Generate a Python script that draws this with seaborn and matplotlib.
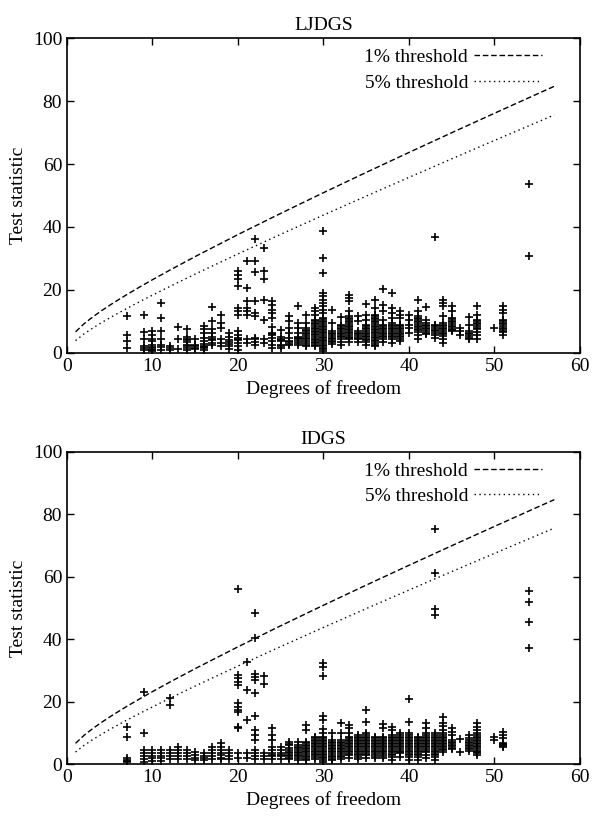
import pandas as pd
import matplotlib.pyplot as plt
import seaborn as sns

# LJDGS: degrees of freedom and the test statistics read at each one
lj_df = [7, 9, 10, 11, 12, 13, 14, 15, 16, 17, 18, 19, 20, 21, 22, 23, 24, 25,
         26, 27, 28, 29, 30, 31, 32, 33, 34, 35, 36, 37, 38, 39, 40, 41, 42,
         43, 44, 45, 46, 47, 48, 50, 51, 54]
lj_vals = [
    [11.6, 5.7, 3.6, 1.5],
    [12.1, 6.5, 4.2, 2.2, 1.5, 0.8],
    [6.8, 5.7, 4.4, 3.6, 2.5, 1.8, 1.4, 1.0, 0.7, 0.4],
    [15.8, 11.1, 6.8, 4.2, 2.5, 1.8, 1.0],
    [2.2, 1.5, 0.8],
    [8.1, 4.2, 1.2],
    [7.5, 5.1, 4.5, 4.0, 3.5, 2.5, 2.0, 1.5, 1.0],
    [4.4, 2.5, 2.0, 1.5, 1.2],
    [8.6, 7.5, 6.2, 4.7, 3.6, 2.7, 2.2, 1.8, 1.5, 1.0],
    [14.6, 10.0, 7.5, 6.2, 4.9, 4.4, 4.0, 3.1, 2.5],
    [12.1, 9.4, 7.8, 4.2, 3.1, 2.0],
    [6.2, 5.1, 3.9, 3.4, 2.9, 2.0, 1.2],
    [25.9, 24.8, 23.4, 21.1, 14.2, 13.2, 12.1, 7.0, 5.7, 4.7, 4.4, 4.0, 3.1, 2.0, 0.9],
    [29.1, 20.6, 16.3, 14.2, 13.2, 12.1, 4.2, 3.0],
    [36.0, 29.3, 25.6, 16.3, 12.6, 11.6, 4.7, 4.2, 3.5, 2.5],
    [33.3, 25.9, 23.4, 16.9, 10.5, 4.2, 3.0],
    [16.3, 15.2, 13.7, 12.6, 11.1, 8.3, 6.2, 5.9, 5.5, 4.7, 3.6, 2.5, 1.5],
    [7.3, 5.1, 4.4, 4.0, 3.6, 2.5, 2.0, 1.5],
    [11.6, 10.0, 7.8, 6.2, 4.7, 3.6, 3.3, 2.9, 2.5],
    [14.8, 9.4, 7.8, 6.2, 5.0, 4.6, 4.2, 3.6, 3.1, 2.5],
    [12.1, 9.4, 7.8, 7.3, 6.8, 6.3, 5.8, 5.3, 4.8, 4.4, 3.6, 3.1, 2.5, 2.0],
    [14.2, 13.2, 12.1, 10.5, 10.0, 9.5, 9.0, 8.5, 8.0, 7.5, 7.0, 6.5, 6.0,
     5.5, 5.0, 4.5, 4.0, 3.5, 3.1, 2.5, 2.0],
    [38.6, 30.2, 25.4, 19.0, 17.9, 16.9, 15.8, 14.8, 13.7, 12.7, 11.1, 10.6,
     10.1, 9.6, 9.1, 8.6, 8.1, 7.6, 7.1, 6.6, 6.1, 5.6, 5.1, 4.6, 4.1, 3.6,
     3.1, 2.6, 2.1, 1.6, 1.1, 0.6],
    [13.5, 9.4, 6.8, 6.3, 5.8, 5.3, 4.8, 4.3, 3.8, 3.3, 2.8],
    [11.4, 8.9, 8.4, 7.9, 7.4, 6.9, 6.4, 5.9, 5.4, 4.9, 4.4, 3.5, 2.5],
    [18.5, 17.4, 16.3, 13.2, 11.6, 11.1, 10.6, 10.1, 9.6, 9.1, 8.6, 8.1, 7.6,
     7.1, 6.6, 6.1, 5.6, 5.1, 4.6, 4.2, 3.5],
    [11.6, 10.0, 6.8, 6.3, 5.8, 5.3, 4.8, 4.3, 3.5],
    [15.5, 12.1, 10.5, 8.9, 8.4, 7.9, 7.4, 6.9, 6.4, 5.9, 5.4, 4.9, 4.4, 3.9,
     3.4, 2.5],
    [16.9, 14.2, 12.1, 11.6, 11.1, 10.6, 10.1, 9.6, 9.1, 8.6, 8.1, 7.6, 7.1,
     6.6, 6.1, 5.6, 5.1, 4.6, 4.1, 3.6, 3.1, 2.6, 2.0],
    [20.3, 15.3, 13.2, 10.5, 8.9, 8.4, 7.9, 7.4, 6.9, 6.4, 5.9, 5.4, 4.9, 4.4, 3.5],
    [19.0, 14.2, 12.5, 11.0, 9.4, 8.9, 8.4, 7.9, 7.4, 6.9, 6.4, 5.9, 5.4, 4.9,
     4.2, 3.0],
    [13.2, 12.1, 11.1, 8.9, 8.4, 7.9, 7.4, 6.9, 6.4, 5.9, 5.4, 4.9, 4.4, 3.6],
    [12.1, 10.5, 8.9, 7.8, 6.2],
    [16.9, 13.2, 11.6, 11.1, 10.6, 10.1, 9.6, 9.1, 8.6, 8.1, 7.6, 7.1, 6.6,
     5.5, 4.5],
    [14.6, 10.5, 9.4, 8.9, 8.4, 7.9, 7.4, 6.9, 6.4, 5.9],
    [36.8, 8.9, 8.4, 7.9, 7.3, 6.8, 6.3, 5.7, 4.7],
    [16.9, 15.8, 14.8, 11.6, 9.4, 8.9, 8.4, 7.9, 7.4, 6.9, 6.4, 5.9, 5.4,
     4.5, 3.1],
    [14.8, 13.2, 11.1, 10.6, 10.1, 9.6, 9.1, 8.6, 8.1, 7.6, 7.1, 6.8],
    [7.8, 6.8, 5.7],
    [11.4, 8.9, 6.8, 6.3, 5.8, 5.3, 4.8, 4.2],
    [14.8, 12.1, 10.5, 10.0, 9.5, 9.0, 8.5, 8.0, 7.5, 6.5, 5.5, 4.2],
    [7.8],
    [14.8, 13.7, 12.7, 10.5, 10.0, 9.5, 9.0, 8.5, 8.0, 7.5, 7.0, 6.5, 5.7],
    [53.5, 30.9],
]

# IDGS
id_df = [7, 9, 10, 11, 12, 13, 14, 15, 16, 17, 18, 19, 20, 21, 22, 23, 24, 25,
         26, 27, 28, 29, 30, 31, 32, 33, 34, 35, 36, 37, 38, 39, 40, 41, 42,
         43, 44, 45, 46, 47, 48, 50, 51, 54]
id_vals = [
    [12.0, 8.8, 1.8, 1.4, 1.0, 0.6],
    [23.2, 9.8, 4.5, 3.5, 2.5, 1.5, 0.8],
    [4.5, 3.5, 2.5, 1.8, 1.0],
    [4.5, 3.5, 2.5, 1.8, 1.0],
    [21.1, 18.9, 4.5, 3.5, 2.5, 1.5],
    [5.6, 4.5, 3.5, 2.5, 1.5],
    [4.5, 3.5, 2.5, 1.5],
    [4.0, 3.0, 2.0, 1.2],
    [3.5, 2.5, 1.8, 1.2],
    [5.6, 4.5, 3.5, 2.5, 1.5],
    [6.6, 5.5, 4.5, 3.5, 2.8, 2.0, 1.5],
    [4.5, 3.5, 2.5, 1.5],
    [56.0, 28.5, 27.5, 26.4, 25.3, 19.4, 18.4, 17.3, 16.8, 12.0, 11.4, 3.4, 1.8],
    [32.8, 23.7, 14.1, 3.4, 1.8],
    [48.5, 40.3, 29.0, 28.0, 26.9, 22.8, 15.5, 10.9, 9.3, 7.7, 4.5, 3.5,
     2.5, 1.5],
    [28.2, 25.6, 3.4, 2.5, 1.5],
    [11.4, 9.3, 7.7, 5.6, 4.5, 3.5, 3.0, 2.5, 1.5],
    [5.6, 4.5, 3.5, 3.0, 2.5, 1.5],
    [7.0, 6.5, 6.0, 5.0, 4.5, 4.0, 3.5, 3.0, 2.5, 2.0, 1.5],
    [7.0, 6.0, 5.5, 5.0, 4.5, 4.0, 3.5, 3.0, 2.5, 2.0, 1.2],
    [12.5, 10.9, 7.2, 6.7, 6.2, 5.7, 5.2, 4.7, 4.2, 3.7, 3.2, 2.7, 2.2, 1.7, 1.2],
    [8.8, 8.3, 7.8, 7.3, 6.8, 6.3, 5.8, 5.3, 4.8, 4.3, 3.8, 3.3, 2.8, 2.4, 1.5],
    [32.5, 31.2, 28.2, 15.5, 14.1, 11.1, 9.8, 8.8, 8.3, 7.8, 7.3, 6.8, 6.3,
     5.8, 5.3, 4.8, 4.3, 3.8, 3.3, 2.8, 2.3, 1.8, 1.3, 0.8],
    [9.8, 7.7, 7.2, 6.7, 6.2, 5.7, 5.2, 4.7, 4.2, 3.7, 3.2, 2.7, 2.2, 1.7, 1.2],
    [13.3, 10.0, 7.7, 7.2, 6.7, 6.2, 5.7, 5.2, 4.7, 4.2, 3.7, 3.2, 2.7, 2.2, 1.7],
    [12.5, 11.4, 9.8, 8.8, 8.3, 7.8, 7.3, 6.8, 6.3, 5.8, 5.3, 4.8, 4.3, 3.8,
     3.3, 2.8, 1.8],
    [9.3, 8.8, 8.3, 7.8, 7.3, 6.8, 6.3, 5.8, 5.3, 4.8, 4.3, 3.8, 3.3, 2.8, 2.4, 1.5],
    [17.3, 13.6, 9.8, 9.3, 8.8, 8.3, 7.8, 7.3, 6.8, 6.3, 5.8, 5.3, 4.8, 4.3,
     3.8, 3.3, 2.8, 1.8],
    [8.8, 8.3, 7.8, 7.3, 6.8, 6.3, 5.8, 5.3, 4.8, 4.3, 3.8, 3.3, 2.5, 1.8],
    [12.8, 11.4, 8.8, 8.3, 7.8, 7.3, 6.8, 6.3, 5.8, 5.3, 4.8, 4.3, 3.8, 3.3,
     2.5, 1.8],
    [12.0, 10.9, 9.3, 8.8, 8.3, 7.8, 7.3, 6.8, 6.3, 5.8, 5.3, 4.8, 4.3, 3.8,
     3.3, 2.8, 2.4, 1.3],
    [9.8, 9.3, 8.8, 8.3, 7.8, 7.3, 6.8, 6.3, 5.8, 5.3, 4.8, 4.3, 3.8, 3.4, 2.4],
    [20.7, 13.6, 9.8, 9.3, 8.8, 8.3, 7.8, 7.3, 6.8, 6.3, 5.8, 5.3, 4.8, 4.3,
     3.8, 3.3, 2.8, 2.4, 1.3],
    [8.8, 8.3, 7.8, 7.3, 6.8, 6.3, 5.8, 5.3, 4.8, 4.3, 3.8, 3.3, 2.8, 2.4, 1.3],
    [13.3, 11.4, 9.8, 9.3, 8.8, 8.3, 7.8, 7.3, 6.8, 6.3, 5.8, 5.3, 4.8, 4.3,
     3.8, 2.8, 1.8],
    [75.4, 61.3, 49.6, 47.8, 9.8, 9.3, 8.8, 8.3, 7.8, 7.3, 6.8, 6.3, 5.8,
     5.3, 4.8, 4.3, 3.8, 3.3, 2.8, 2.4, 1.3],
    [15.2, 13.3, 12.2, 10.9, 9.8, 9.3, 8.8, 8.3, 7.8, 7.3, 6.8, 6.3, 5.8,
     5.3, 4.8, 4.5, 3.8],
    [11.4, 10.3, 9.3, 7.7, 7.2, 6.7, 6.2, 5.7, 5.2, 4.7],
    [7.9, 4.0],
    [9.3, 8.2, 7.7, 7.2, 6.7, 6.2, 5.7, 5.2, 4.7, 4.2],
    [13.0, 12.0, 10.9, 9.8, 9.3, 8.8, 8.3, 7.8, 7.3, 6.8, 6.3, 5.8, 5.3, 4.8,
     4.3, 3.8, 3.4, 2.8],
    [8.5, 7.7],
    [10.3, 9.3, 8.2, 6.6, 6.3, 6.0, 5.7, 5.4],
    [55.5, 52.0, 45.6, 37.3],
]

# threshold curves (chi-square critical values)
thr_df = [1, 2, 3, 4, 5, 6, 7, 8, 9, 10, 12, 15, 20, 25, 30, 35, 40, 45, 50, 55, 57]
thr_1pct = [6.63, 9.21, 11.34, 13.28, 15.09, 16.81, 18.48, 20.09, 21.67, 23.21,
            26.22, 30.58, 37.57, 44.31, 50.89, 57.34, 63.69, 69.96, 76.15, 82.29, 84.73]
thr_5pct = [3.84, 5.99, 7.81, 9.49, 11.07, 12.59, 14.07, 15.51, 16.92, 18.31,
            21.03, 25.00, 31.41, 37.65, 43.77, 49.80, 55.76, 61.66, 67.50, 73.31, 75.62]


def to_frame(dfs, vals):
    rows = [(d, v) for d, col in zip(dfs, vals) for v in col]
    return pd.DataFrame(rows, columns=['dof', 'stat'])


sns.set_theme(style='ticks')
plt.rcParams['font.family'] = ['Liberation Serif', 'DejaVu Serif']
plt.rcParams.update({
    'font.size': 14,
    'xtick.direction': 'in', 'ytick.direction': 'in',
    'xtick.top': True, 'ytick.right': True,
    'xtick.major.size': 5, 'ytick.major.size': 5,
    'xtick.major.width': 1.0, 'ytick.major.width': 1.0,
    'xtick.labelsize': 14, 'ytick.labelsize': 14,
    'xtick.color': 'black', 'ytick.color': 'black',
    'axes.edgecolor': 'black', 'axes.linewidth': 1.2,
    'text.color': 'black', 'axes.labelcolor': 'black',
})

thr = pd.DataFrame({'dof': thr_df, 'p1': thr_1pct, 'p5': thr_5pct})

fig = plt.figure(figsize=(5.94, 8.16), dpi=100)
ax1 = fig.add_axes([0.1128, 0.5678, 0.8636, 0.3853])
ax2 = fig.add_axes([0.1128, 0.0637, 0.8636, 0.3824])

for ax, title, dfs, vals in [(ax1, 'LJDGS', lj_df, lj_vals),
                             (ax2, 'IDGS', id_df, id_vals)]:
    data = to_frame(dfs, vals)
    sns.lineplot(data=thr, x='dof', y='p1', ax=ax, color='black', lw=1.0,
                 linestyle=(0, (4, 2)), label='1% threshold')
    sns.lineplot(data=thr, x='dof', y='p5', ax=ax, color='black', lw=1.0,
                 linestyle=(0, (1, 2.5)), label='5% threshold')
    sns.scatterplot(data=data, x='dof', y='stat', marker='+', color='black',
                    s=30, linewidth=1.2, ax=ax, legend=False, zorder=3)
    ax.set_xlim(0, 60)
    ax.set_ylim(0, 100)
    ax.set_xticks(range(0, 61, 10))
    ax.set_yticks(range(0, 101, 20))
    ax.set_title(title, fontsize=14, pad=6)
    ax.set_xlabel('Degrees of freedom', fontsize=14, labelpad=4)
    ax.set_ylabel('Test statistic', fontsize=14, labelpad=4)
    ax.legend(loc='upper right', bbox_to_anchor=(0.926, 0.967), frameon=False,
              markerfirst=False, handlelength=3.5, handletextpad=0.3,
              labelspacing=0.4, borderpad=0, borderaxespad=0, fontsize=14)

fig.savefig('out.png', dpi=100)
